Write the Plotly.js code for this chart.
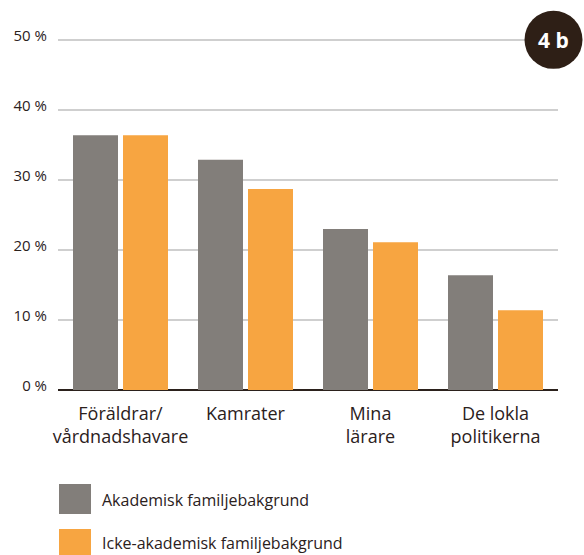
<!DOCTYPE html>
<html>
<head>
<meta charset="utf-8">
<script src="https://cdn.plot.ly/plotly-3.0.1.min.js"></script>
<style>html,body{margin:0;padding:0;background:#fff;}#chart{width:584px;height:555px;}</style>
</head>
<body>
<div id="chart"></div>
<script>
const categories = ["Föräldrar/<br>vårdnadshavare", "Kamrater", "Mina<br>lärare", "De lokla<br>politikerna"];
const seriesNames = ["Akademisk familjebakgrund", "Icke-akademisk familjebakgrund"];
const akademisk = [36.4, 32.9, 23.0, 16.4];
const ickeAkademisk = [36.4, 28.7, 21.1, 11.4];
const tickValues = [0, 10, 20, 30, 40, 50];
const tickLabels = ["0 %", "10 %", "20 %", "30 %", "40 %", "50 %"];
const badgeText = "4 b";

const textColor = "#2b211c";
const colors = ["#827e7a", "#f7a541"];
const font = "Open Sans, sans-serif";

const traces = [
  {type: "bar", x: categories, y: akademisk, name: seriesNames[0], marker: {color: colors[0]}, hoverinfo: "y"},
  {type: "bar", x: categories, y: ickeAkademisk, name: seriesNames[1], marker: {color: colors[1]}, hoverinfo: "y"}
];

// plot: 0 at y=390, 7 px per unit; range up to 52 -> top at y=26
const layout = {
  width: 584, height: 555,
  margin: {l: 58, r: 26, t: 26, b: 165},
  paper_bgcolor: "#fff", plot_bgcolor: "#fff",
  barmode: "group", bargap: 0.2, bargroupgap: 0.1,
  showlegend: false,
  font: {family: font, color: textColor},
  xaxis: {
    tickfont: {size: 18, color: textColor, family: font},
    showgrid: false, showline: false, ticks: "", ticklabelstandoff: 11, fixedrange: true
  },
  yaxis: {
    range: [0, 52], tickvals: tickValues, ticktext: tickLabels,
    tickfont: {size: 15, color: textColor, family: font},
    showgrid: true, gridcolor: "#cfcfcf", gridwidth: 1.5,
    zeroline: true, zerolinecolor: "#2b211c", zerolinewidth: 2.5,
    showline: false, ticks: "", ticklabelstandoff: 10, ticklabelshift: -4, fixedrange: true
  },
  shapes: [
    {type: "circle", xref: "paper", yref: "paper", x0: 0.933, x1: 1.049, y0: 0.8823, y1: 1.0416,
     fillcolor: "#2e1f16", line: {width: 0}, layer: "above"},
    {type: "rect", xref: "paper", yref: "paper", x0: 0.002, x1: 0.066, y0: -0.3407, y1: -0.2582,
     fillcolor: colors[0], line: {width: 0}},
    {type: "rect", xref: "paper", yref: "paper", x0: 0.002, x1: 0.066, y0: -0.4643, y1: -0.3819,
     fillcolor: colors[1], line: {width: 0}}
  ],
  annotations: [
    {xref: "paper", yref: "paper", x: 0.991, y: 0.962, text: "<b>" + badgeText + "</b>", showarrow: false,
     font: {size: 21, color: "#ffffff", family: font}, xanchor: "center", yanchor: "middle"},
    {xref: "paper", yref: "paper", x: 0.084, y: -0.302, text: seriesNames[0], showarrow: false,
     font: {size: 16, color: textColor, family: font}, xanchor: "left", yanchor: "middle"},
    {xref: "paper", yref: "paper", x: 0.084, y: -0.4215, text: seriesNames[1], showarrow: false,
     font: {size: 16, color: textColor, family: font}, xanchor: "left", yanchor: "middle"}
  ]
};

Plotly.newPlot("chart", traces, layout, {displayModeBar: false, staticPlot: true});
</script>
</body>
</html>
